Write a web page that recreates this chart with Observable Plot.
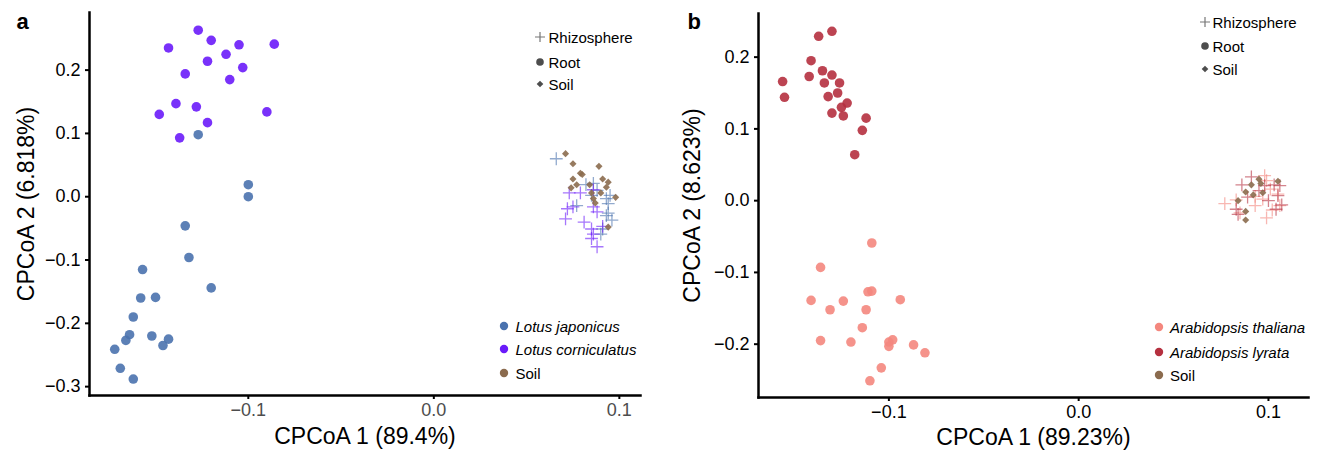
<!DOCTYPE html>
<html><head><meta charset="utf-8">
<script src="https://cdn.jsdelivr.net/npm/d3@7"></script>
<script src="https://cdn.jsdelivr.net/npm/@observablehq/plot@0.6"></script>
<style>
html,body{margin:0;padding:0;background:#fff;}
#wrap{position:relative;width:1323px;height:461px;font-family:"Liberation Sans",Arial,Helvetica,sans-serif;overflow:hidden;}
.panel{position:absolute;top:0;}
.legtxt{position:absolute;font-size:15px;color:#000;line-height:1;white-space:nowrap;transform:translateY(-50%);}
.legsym{position:absolute;overflow:visible;}
</style></head><body><div id="wrap"></div>
<script>
// ---------- DATA ----------
// Panel a (Lotus)
const xTicksA = [-0.1, 0, 0.1];
const yTicksA = [-0.3, -0.2, -0.1, 0, 0.1, 0.2];
const rootJaponicusA = [[-0.127,0.098],[-0.100,0.019],[-0.100,0.000],[-0.134,-0.046],[-0.132,-0.096],[-0.157,-0.115],[-0.120,-0.144],[-0.158,-0.160],[-0.150,-0.159],[-0.162,-0.190],[-0.164,-0.218],[-0.166,-0.227],[-0.152,-0.220],[-0.143,-0.225],[-0.146,-0.235],[-0.172,-0.241],[-0.169,-0.271],[-0.162,-0.288]];
const rootCorniculatusA = [[-0.127,0.263],[-0.143,0.235],[-0.120,0.247],[-0.105,0.240],[-0.086,0.241],[-0.112,0.225],[-0.122,0.214],[-0.103,0.204],[-0.134,0.194],[-0.110,0.185],[-0.139,0.147],[-0.128,0.142],[-0.148,0.130],[-0.090,0.134],[-0.122,0.117],[-0.137,0.093]];
const rhizoJaponicusA = [[0.066,0.060],[0.082,0.019],[0.086,0.021],[0.077,-0.014],[0.093,-0.003],[0.094,-0.011],[0.093,-0.030],[0.096,-0.037],[0.091,-0.051],[0.090,-0.059],[0.085,0.002],[0.088,0.010],[0.095,0.002],[0.094,-0.026]];
const rhizoCorniculatusA = [[0.073,0.006],[0.079,0.006],[0.075,-0.016],[0.072,-0.019],[0.071,-0.035],[0.081,-0.040],[0.086,-0.016],[0.088,-0.024],[0.085,-0.051],[0.086,-0.059],[0.085,-0.066],[0.088,-0.079],[0.086,0.011],[0.091,-0.047]];
const soilA = [[0.071,0.068],[0.075,0.052],[0.089,0.048],[0.079,0.037],[0.080,0.035],[0.075,0.028],[0.091,0.028],[0.077,0.019],[0.084,0.019],[0.094,0.023],[0.093,0.015],[0.074,0.014],[0.085,0.006],[0.090,0.006],[0.086,-0.003],[0.098,-0.001],[0.087,-0.010],[0.094,-0.048]];
const speciesLegendA = ["Lotus japonicus", "Lotus corniculatus", "Soil"];

// Panel b (Arabidopsis)
const xTicksB = [-0.1, 0, 0.1];
const yTicksB = [-0.2, -0.1, 0, 0.1, 0.2];
const rootLyrataB = [[-0.156,0.166],[-0.155,0.144],[-0.137,0.229],[-0.130,0.236],[-0.141,0.195],[-0.142,0.173],[-0.135,0.181],[-0.130,0.175],[-0.134,0.164],[-0.126,0.164],[-0.127,0.150],[-0.132,0.145],[-0.122,0.136],[-0.125,0.130],[-0.130,0.122],[-0.124,0.118],[-0.112,0.115],[-0.114,0.098],[-0.118,0.064]];
const rootThalianaB = [[-0.109,-0.059],[-0.136,-0.093],[-0.141,-0.139],[-0.131,-0.152],[-0.124,-0.140],[-0.111,-0.127],[-0.109,-0.126],[-0.112,-0.152],[-0.094,-0.138],[-0.114,-0.177],[-0.136,-0.195],[-0.120,-0.197],[-0.098,-0.194],[-0.100,-0.197],[-0.100,-0.203],[-0.087,-0.201],[-0.081,-0.212],[-0.104,-0.233],[-0.110,-0.251]];
const rhizoThalianaB = [[0.077,-0.004],[0.083,0.001],[0.098,0.035],[0.099,0.028],[0.093,0.006],[0.101,0.016],[0.105,0.009],[0.099,-0.024],[0.102,-0.013],[0.097,0.002],[0.106,-0.007],[0.085,-0.017],[0.093,-0.007]];
const rhizoLyrataB = [[0.091,0.033],[0.086,0.022],[0.095,0.014],[0.098,0.021],[0.103,0.022],[0.106,0.021],[0.105,0.007],[0.107,-0.006],[0.104,-0.012],[0.083,-0.012],[0.084,-0.019],[0.089,0.005],[0.100,0.000]];
const soilB = [[0.095,0.030],[0.105,0.027],[0.091,0.022],[0.096,0.024],[0.088,0.012],[0.092,0.008],[0.097,0.011],[0.084,0.000],[0.088,-0.015],[0.088,-0.027]];
const speciesLegendB = ["Arabidopsis thaliana", "Arabidopsis lyrata", "Soil"];

const compartmentLegend = ["Rhizosphere", "Root", "Soil"];
const compartmentSymbols = ["plus", "circle", "diamond"];

const colJap = "#4A72AE", colCorn = "#6A1BFA", colSoil = "#8B6B4E";
const colThal = "#F4877E", colLyr = "#B5303F";

// ---------- DRAW ----------
const FONT = "'Liberation Sans', Arial, Helvetica, sans-serif";
const fmt = d => (d < 0 ? "\u2212" : "") + Math.abs(d).toFixed(1);

function panel(o) {
  const P = (arr, opts) => Plot.dot(arr, {x: d => d[0], y: d => d[1], ...opts});
  return Plot.plot({
    width: o.width, height: 461,
    marginLeft: o.ml, marginRight: o.mr, marginTop: o.mt, marginBottom: o.mb,
    x: {domain: o.xDomain}, y: {domain: o.yDomain},
    style: {fontFamily: FONT, color: "#000", background: "transparent", overflow: "visible"},
    marks: [
      Plot.axisX(o.xTicks, {tickSize: 4, tickPadding: 4, fontSize: 18, strokeWidth: 2, fill: o.xTickColor, tickFormat: fmt, label: null}),
      Plot.axisY(o.yTicks, {tickSize: 4, tickPadding: 5, fontSize: 18, strokeWidth: 2, fill: "#000", tickFormat: fmt, label: null}),
      Plot.frame({anchor: "left", strokeWidth: 2.5}),
      Plot.frame({anchor: "bottom", strokeWidth: 2.5}),
      ...o.rhizo.map(([arr, col]) => P(arr, {symbol: "plus", r: 4.2, stroke: col, strokeOpacity: 0.6, strokeWidth: 1.3})),
      P(o.soil, {symbol: "diamond2", r: 3.2, fill: colSoil, stroke: "none", fillOpacity: 0.9}),
      ...o.roots.map(([arr, col]) => P(arr, {symbol: "circle", r: 4.8, fill: col, fillOpacity: 0.9})),
      Plot.text([o.xTitle], {text: d => d, frameAnchor: "bottom", textAnchor: "middle", dy: o.xTitleDy, fontSize: 23}),
      Plot.text([o.yTitle], {text: d => d, frameAnchor: "left", textAnchor: "middle", lineAnchor: "middle", rotate: -90, dx: o.yTitleDx, fontSize: 23}),
      Plot.text([o.letter], {text: d => d, frameAnchor: "top-left", textAnchor: "start", lineAnchor: "middle", dx: o.letterDx, dy: o.letterDy, fontSize: 22, fontWeight: "bold"})
    ]
  });
}

const wrap = document.getElementById("wrap");

const pa = panel({
  width: 660, ml: 89, mr: 20, mt: 12, mb: 66,
  xDomain: [-0.1856, 0.1114], yDomain: [-0.314, 0.291],
  xTicks: xTicksA, yTicks: yTicksA, xTickColor: "#4d4d4d",
  rhizo: [[rhizoJaponicusA, colJap], [rhizoCorniculatusA, colCorn]],
  soil: soilA,
  roots: [[rootJaponicusA, colJap], [rootCorniculatusA, colCorn]],
  xTitle: "CPCoA 1 (89.4%)", yTitle: "CPCoA 2 (6.818%)",
  xTitleDy: 48, yTitleDx: -63, letter: "a", letterDx: -73, letterDy: 9
});
pa.classList.add("panel"); pa.style.left = "0px";
wrap.appendChild(pa);

const pb = panel({
  width: 663, ml: 98, mr: 15, mt: 13, mb: 64,
  xDomain: [-0.1687, 0.1211], yDomain: [-0.2743, 0.2608],
  xTicks: xTicksB, yTicks: yTicksB, xTickColor: "#000",
  rhizo: [[rhizoThalianaB, colThal], [rhizoLyrataB, colLyr]],
  soil: soilB,
  roots: [[rootThalianaB, colThal], [rootLyrataB, colLyr]],
  xTitle: "CPCoA 1 (89.23%)", yTitle: "CPCoA 2 (8.623%)",
  xTitleDy: 47, yTitleDx: -66, letter: "b", letterDx: -71, letterDy: 8
});
pb.classList.add("panel"); pb.style.left = "660px";
wrap.appendChild(pb);

// ---------- LEGENDS (HTML overlays) ----------
const NS = "http://www.w3.org/2000/svg";
function symbolSvg(kind, color, cx, cy) {
  const s = document.createElementNS(NS, "svg");
  s.setAttribute("class", "legsym");
  s.setAttribute("width", 16); s.setAttribute("height", 16);
  s.style.left = (cx - 8) + "px"; s.style.top = (cy - 8) + "px";
  const p = document.createElementNS(NS, "path");
  p.setAttribute("transform", "translate(8,8)");
  if (kind === "plus") {
    p.setAttribute("d", "M-5,0H5M0,-5V5");
    p.setAttribute("stroke", "#777"); p.setAttribute("stroke-width", 1.2); p.setAttribute("fill", "none");
  } else if (kind === "circle") {
    p.setAttribute("d", d3.symbol(d3.symbolCircle, Math.PI * 3.8 * 3.8)());
    p.setAttribute("fill", color);
  } else if (kind === "dot") {
    p.setAttribute("d", d3.symbol(d3.symbolCircle, Math.PI * 4.2 * 4.2)());
    p.setAttribute("fill", color);
  } else {
    p.setAttribute("d", "M0,-3.3L3.3,0L0,3.3L-3.3,0Z");
    p.setAttribute("fill", color);
  }
  s.appendChild(p);
  return s;
}
function legend(labels, kinds, colors, symX, textX, ys, italics) {
  labels.forEach((lab, i) => {
    wrap.appendChild(symbolSvg(kinds[i], colors[i], symX, ys[i]));
    const t = document.createElement("div");
    t.className = "legtxt";
    t.textContent = lab;
    t.style.left = textX + "px"; t.style.top = ys[i] + "px";
    if (italics[i]) t.style.fontStyle = "italic";
    wrap.appendChild(t);
  });
}
const grey = "#4d4d4d";
legend(compartmentLegend, compartmentSymbols, [grey, grey, grey], 540, 548.5, [36.7, 62, 84.3], [false, false, false]);
legend(compartmentLegend, compartmentSymbols, [grey, grey, grey], 1205, 1212.5, [21.7, 46.3, 69], [false, false, false]);
legend(speciesLegendA, ["dot", "dot", "dot"], [colJap, colCorn, colSoil], 504.3, 515.5, [325.7, 349, 373.3], [true, true, false]);
legend(speciesLegendB, ["dot", "dot", "dot"], [colThal, colLyr, colSoil], 1159, 1170, [327.3, 352.3, 375], [true, true, false]);
</script></body></html>
